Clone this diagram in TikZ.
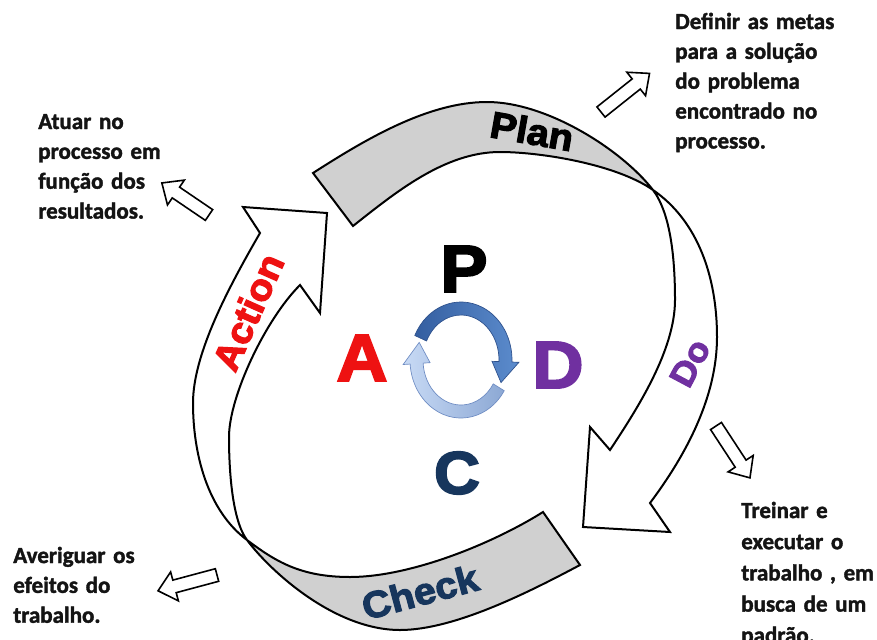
\documentclass[tikz,border=0pt]{standalone}
\usepackage{fontspec}
\setmainfont{Carlito}
\newfontfamily\sidefont[FakeBold=1.6,WordSpace=0.8]{Carlito}
\newfontfamily\heavyfont[FakeBold=3,FakeStretch=1.06]{Liberation Sans}
\usetikzlibrary{calc}
\definecolor{bandgray}{RGB}{208,208,208}
\definecolor{pdcared}{RGB}{238,18,18}
\definecolor{pdcapurple}{RGB}{112,48,160}
\definecolor{pdcanavy}{RGB}{23,54,93}
\definecolor{upA}{RGB}{52,94,160}
\definecolor{upB}{RGB}{92,140,205}
\definecolor{upD}{RGB}{45,80,140}
\definecolor{loA}{RGB}{200,218,245}
\definecolor{loB}{RGB}{140,168,212}
\definecolor{loD}{RGB}{110,140,195}
\definecolor{txt}{RGB}{20,20,20}
\newcommand{\blockarr}[4]{%
  \draw[blockarrow, shift={(#1,#2)}, rotate=#3]
    (0,-6.5) -- (#4-17,-6.5) -- (#4-17,-15) -- (#4,0) -- (#4-17,15) -- (#4-17,6.5) -- (0,6.5) -- cycle;}
\begin{document}
\begin{tikzpicture}[x=0.75pt,y=-0.75pt,
  ribbon/.style={draw=black, line width=1.5pt, line join=miter},
  blockarrow/.style={draw=black, line width=1.2pt, fill=white, line join=miter},
  sidetext/.style={anchor=base west, inner sep=0pt, align=left, text width=190pt, text=txt,
     font=\sidefont\bfseries\fontsize{17.25}{22.4}\selectfont},
  bandlabel/.style={inner sep=0pt, font=\heavyfont\bfseries\fontsize{28}{28}\selectfont},
  bigletter/.style={inner sep=0pt, font=\heavyfont\bfseries\fontsize{50}{50}\selectfont}]
\useasboundingbox (0,0) rectangle (877,639);
\fill[white] (0,0) rectangle (877,639);

% ---------- ribbon 1 : Plan (gray back side) -> Do arrow ----------
\fill[bandgray] (313,173) .. controls (363,141) and (427,102) .. (487,102)
  .. controls (547,102) and (622,150) .. (653,190)
  .. controls (616,164) and (540,152) .. (500,152)
  .. controls (445,152) and (396,192) .. (353,226) -- cycle;
\draw[ribbon] (313,173) .. controls (363,141) and (427,102) .. (487,102)
  .. controls (547,102) and (622,150) .. (653,190)
  .. controls (671,214) and (675,260) .. (675,300)
  .. controls (675,350) and (637.5,408.5) .. (610,450)
  -- (590,427) -- (583,527) -- (670,532) -- (650,503)
  .. controls (686,455) and (717,397) .. (717,337)
  .. controls (717,277) and (698,221) .. (653,190)
  .. controls (616,164) and (540,152) .. (500,152)
  .. controls (445,152) and (396,192) .. (353,226) -- cycle;

% ---------- ribbon 2 : Check (gray back side) -> Action arrow ----------
\fill[bandgray] (543,512) .. controls (492,544) and (410,577) .. (350,577)
  .. controls (300,577) and (275,561) .. (247,540)
  .. controls (271,572) and (335,630) .. (400,630)
  .. controls (455,630) and (531,591) .. (580,565) -- cycle;
\draw[ribbon] (543,512) .. controls (492,544) and (410,577) .. (350,577)
  .. controls (300,577) and (275,561) .. (247,540)
  .. controls (207,510) and (193,453) .. (193,403)
  .. controls (193,353) and (230,285) .. (260,233)
  -- (243,207) -- (327,213) -- (320,313) -- (300,285)
  .. controls (265,320) and (229,397) .. (229,437)
  .. controls (229,470) and (232,520) .. (247,540)
  .. controls (271,572) and (335,630) .. (400,630)
  .. controls (455,630) and (531,591) .. (580,565) -- cycle;

% ---------- band labels ----------
\node[bandlabel, rotate=-10] (plan) at (532,131) {Plan};
\node[bandlabel, text=pdcapurple, rotate=62, font=\heavyfont\bfseries\fontsize{25.5}{25.5}\selectfont] (do) at (690,363) {Do};
\node[bandlabel, text=pdcanavy, rotate=15] (check) at (420,592) {Check};
\node[bandlabel, text=pdcared, rotate=66] (action) at (248,312) {Action};

% ---------- central cycle icon ----------
\begin{scope}[shift={(461,360)}]
  \shade[left color=upA, right color=upB, draw=upD, line width=0.5pt]
    (-155:51 and 58) arc[start angle=-155, end angle=2, x radius=51, y radius=58]
    -- (2:58 and 65) -- (26:44.5 and 51.5) -- (2:31 and 38)
    -- (2:38 and 45) arc[start angle=2, end angle=-155, x radius=38, y radius=45] -- cycle;
  \shade[left color=loA, right color=loB, draw=loD, line width=0.5pt]
    (32:51 and 58) arc[start angle=32, end angle=176, x radius=51, y radius=58]
    -- (176:58 and 65) -- (200:44.5 and 51.5) -- (176:31 and 38)
    -- (176:38 and 45) arc[start angle=176, end angle=32, x radius=38, y radius=45] -- cycle;
\end{scope}

% ---------- big letters ----------
\node[bigletter, text=black] (P) at (464,269) {P};
\node[bigletter, text=pdcared] (A) at (362,358) {A};
\node[bigletter, text=pdcapurple] (D) at (558,365) {D};
\node[bigletter, text=pdcanavy, font=\heavyfont\bfseries\fontsize{45}{45}\selectfont] (C) at (457,473) {C};

% ---------- hollow block arrows ----------
\blockarr{601}{112}{38.5}{62}
\blockarr{209}{215}{145.8}{57}
\blockarr{217}{575}{195}{61}
\blockarr{716}{426}{-56.8}{62}

% ---------- side texts ----------
\node[sidetext] (tplan) at (675,29) {Definir as metas\\para a solução\\do problema\\encontrado no\\processo.};
\node[sidetext] (tact) at (38,129) {Atuar no\\processo em\\função dos\\resultados.};
\node[sidetext] (tcheck) at (13,563) {Averiguar os\\efeitos do\\trabalho.};
\node[sidetext, font=\sidefont\bfseries\fontsize{17.25}{23.4}\selectfont] (tdo) at (741,518) {Treinar e\\executar o\\trabalho , em\\busca de um\\padrão.};
\end{tikzpicture}
\end{document}
